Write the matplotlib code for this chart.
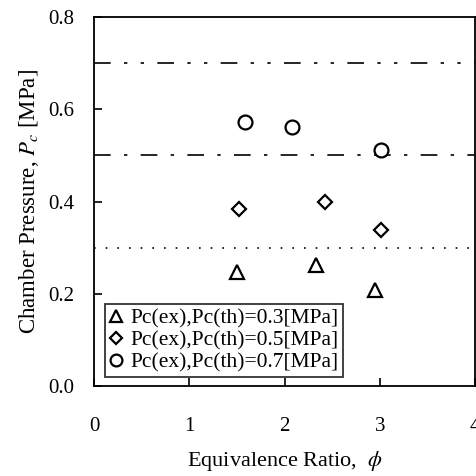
import numpy as np
import matplotlib
matplotlib.use('Agg')
import matplotlib.pyplot as plt

# data
phi_03 = [1.50, 2.33, 2.95]
pc_03 = [0.248, 0.263, 0.209]
phi_05 = [1.52, 2.42, 3.01]
pc_05 = [0.383, 0.400, 0.339]
phi_07 = [1.58, 2.08, 3.01]
pc_07 = [0.573, 0.561, 0.511]
pc_th = [0.3, 0.5, 0.7]
labels = ['Pc(ex),Pc(th)=0.3[MPa]', 'Pc(ex),Pc(th)=0.5[MPa]', 'Pc(ex),Pc(th)=0.7[MPa]']

plt.rcParams['font.family'] = ['Liberation Serif', 'DejaVu Serif']
plt.rcParams['mathtext.fontset'] = 'stix'

fig = plt.figure(figsize=(4.77, 4.76), dpi=100)
ax = fig.add_axes([0.197, 0.189, 0.799, 0.775])

# theoretical pressure lines
ax.axhline(pc_th[0], color='black', lw=1.2, linestyle=(0, (1, 6)))
ax.axhline(pc_th[1], color='black', lw=1.2, linestyle=(0, (10, 8, 2, 8)))
ax.axhline(pc_th[2], color='black', lw=1.2, linestyle=(0, (10, 8, 2, 8, 2, 8)))

ms = 10
ax.plot(phi_03, pc_03, linestyle='none', marker='^', ms=ms, mfc='white', mec='black', mew=1.6, label=labels[0])
ax.plot(phi_05, pc_05, linestyle='none', marker='D', ms=ms * 0.75, mfc='white', mec='black', mew=1.6, label=labels[1])
ax.plot(phi_07, pc_07, linestyle='none', marker='o', ms=ms, mfc='white', mec='black', mew=1.6, label=labels[2])

ax.set_xlim(0, 4)
ax.set_ylim(0, 0.8)
ax.set_xticks([0, 1, 2, 3, 4])
ax.set_yticks([0.0, 0.2, 0.4, 0.6, 0.8])
ax.set_yticklabels(['0.0', '0.2', '0.4', '0.6', '0.8'])
ax.tick_params(direction='in', length=6, width=1.2, labelsize=15, pad=14)
ax.tick_params(axis='x', pad=22)
for s in ax.spines.values():
    s.set_linewidth(1.3)

ax.set_xlabel('Equivalence Ratio,  $\\phi$', fontsize=16, labelpad=10)
ax.set_ylabel('Chamber Pressure, $P_c$ [MPa]', fontsize=16.5, labelpad=5)

leg = ax.legend(loc='lower left', bbox_to_anchor=(0.028, 0.025), fontsize=15.5,
                frameon=True, fancybox=False, edgecolor='black', handlelength=0.7,
                handletextpad=0.3, borderpad=0.2, labelspacing=0.1, borderaxespad=0,
                markerscale=0.85)
leg.get_frame().set_linewidth(1.3)

plt.savefig('out.png', dpi=100, facecolor='white')
plt.close()
